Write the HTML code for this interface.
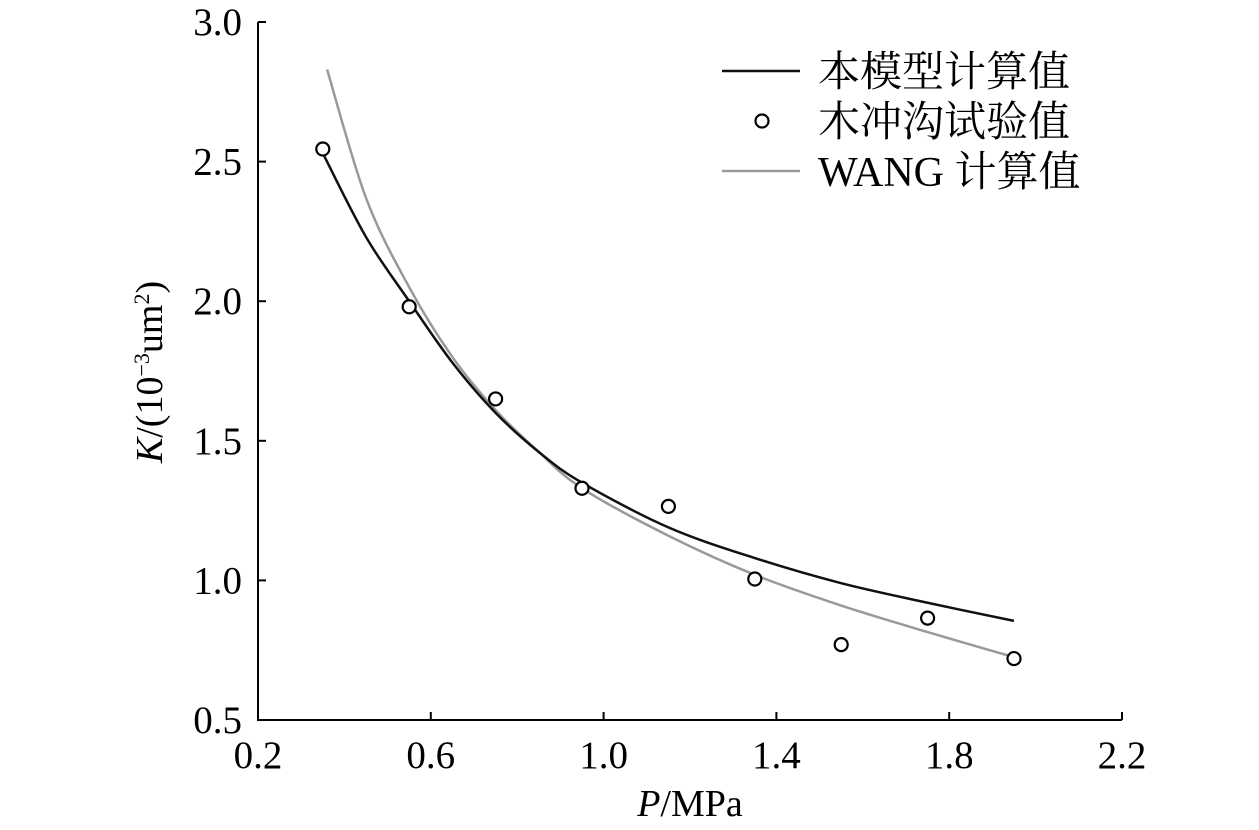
<!DOCTYPE html>
<html><head><meta charset="utf-8"><style>
html,body{margin:0;padding:0;background:#fff;}
svg{display:block;}
text{font-family:"Liberation Serif","Noto Serif CJK SC",serif;fill:#000;}
</style></head><body>
<svg id="chart" width="1259" height="830" viewBox="0 0 1259 830" xmlns="http://www.w3.org/2000/svg"></svg>
<script>
const xTicks=[0.2,0.6,1.0,1.4,1.8,2.2];
const xTickLabels=["0.2","0.6","1.0","1.4","1.8","2.2"];
const yTicks=[0.5,1.0,1.5,2.0,2.5,3.0];
const yTickLabels=["0.5","1.0","1.5","2.0","2.5","3.0"];
const expP=[0.35,0.55,0.75,0.95,1.15,1.35,1.55,1.75,1.95];
const expK=[2.545,1.98,1.65,1.33,1.265,1.005,0.77,0.865,0.72];
const modelP=[0.35,0.45,0.55,0.65,0.75,0.85,0.95,1.15,1.35,1.55,1.75,1.95];
const modelK=[2.53,2.23,2.0,1.78,1.6,1.46,1.35,1.19,1.08,0.99,0.92,0.855];
const wangP=[0.36,0.45,0.55,0.65,0.75,0.85,0.95,1.15,1.35,1.55,1.75,1.95];
const wangK=[2.83,2.37,2.05,1.80,1.61,1.46,1.33,1.16,1.02,0.91,0.815,0.725];

const X0=258,X1=1122,Y0=720,Y1=22;
const xS=v=>X0+(v-0.2)/(2.2-0.2)*(X1-X0);
const yS=v=>Y0-(v-0.5)/(3.0-0.5)*(Y0-Y1);
const svg=document.getElementById('chart');
const NS='http://www.w3.org/2000/svg';
function mk(tag,attrs,parent){const e=document.createElementNS(NS,tag);for(const k in attrs)e.setAttribute(k,attrs[k]);(parent||svg).appendChild(e);return e;}

let ax=mk('path',{d:`M${X0},${Y1} L${X0},${Y0} L${X1},${Y0}`,fill:'none',stroke:'#000','stroke-width':2});


xTicks.forEach((t,i)=>{
  const x=xS(t);
  let tk=mk('line',{x1:x,x2:x,y1:Y0,y2:Y0-8,stroke:'#000','stroke-width':2});
  
  
  let tx=mk('text',{x:x,y:Y0+48,'text-anchor':'middle','font-size':39});
  tx.textContent=xTickLabels[i];
  
  
});
yTicks.forEach((t,i)=>{
  const y=yS(t);
  let tk=mk('line',{x1:X0,x2:X0+8,y1:y,y2:y,stroke:'#000','stroke-width':2});
  
  
  let tx=mk('text',{x:X0-16,y:y+13,'text-anchor':'end','font-size':39});
  tx.textContent=yTickLabels[i];
  
  
});
function smooth(P,K){
  const pts=P.map((p,i)=>[xS(p),yS(K[i])]);
  let d=`M${pts[0][0]},${pts[0][1]}`;
  for(let i=0;i<pts.length-1;i++){
    const p0=pts[Math.max(0,i-1)],p1=pts[i],p2=pts[i+1],p3=pts[Math.min(pts.length-1,i+2)];
    const c1=[p1[0]+(p2[0]-p0[0])/6,p1[1]+(p2[1]-p0[1])/6];
    const c2=[p2[0]-(p3[0]-p1[0])/6,p2[1]-(p3[1]-p1[1])/6];
    d+=` C${c1[0]},${c1[1]} ${c2[0]},${c2[1]} ${p2[0]},${p2[1]}`;
  }
  return d;
}
let wl=mk('path',{d:smooth(wangP,wangK),fill:'none',stroke:'#999','stroke-width':2.5});


let ml=mk('path',{d:smooth(modelP,modelK),fill:'none',stroke:'#111','stroke-width':2.5});


expP.forEach((p,i)=>{
  let c=mk('circle',{cx:xS(p),cy:yS(expK[i]),r:6.5,fill:'#fff',stroke:'#000','stroke-width':2.2});
  
  
});
const lg=mk('g',{});


let l1=mk('line',{x1:722,x2:800,y1:71,y2:71,stroke:'#111','stroke-width':2.5},lg);


let t1=mk('text',{x:818,y:86,'font-size':42},lg);t1.textContent='本模型计算值';


let c2=mk('circle',{cx:762,cy:121,r:6.5,fill:'#fff',stroke:'#000','stroke-width':2.2},lg);


let t2=mk('text',{x:818,y:136,'font-size':42},lg);t2.textContent='木冲沟试验值';


let l3=mk('line',{x1:722,x2:800,y1:171,y2:171,stroke:'#999','stroke-width':2.5},lg);


let t3=mk('text',{x:818,y:186,'font-size':42},lg);t3.textContent='WANG 计算值';


let xt=mk('text',{x:690,y:816,'text-anchor':'middle','font-size':38});
xt.innerHTML='<tspan font-style="italic">P</tspan>/MPa';


let yt=mk('text',{x:0,y:0,'text-anchor':'middle','font-size':38,transform:'translate(162,372) rotate(-90)'});
yt.innerHTML='<tspan font-style="italic">K</tspan>/(10<tspan font-size="22" dy="-13">−3</tspan><tspan dy="13">um</tspan><tspan font-size="22" dy="-13">2</tspan><tspan dy="13">)</tspan>';


</script>
</body></html>
